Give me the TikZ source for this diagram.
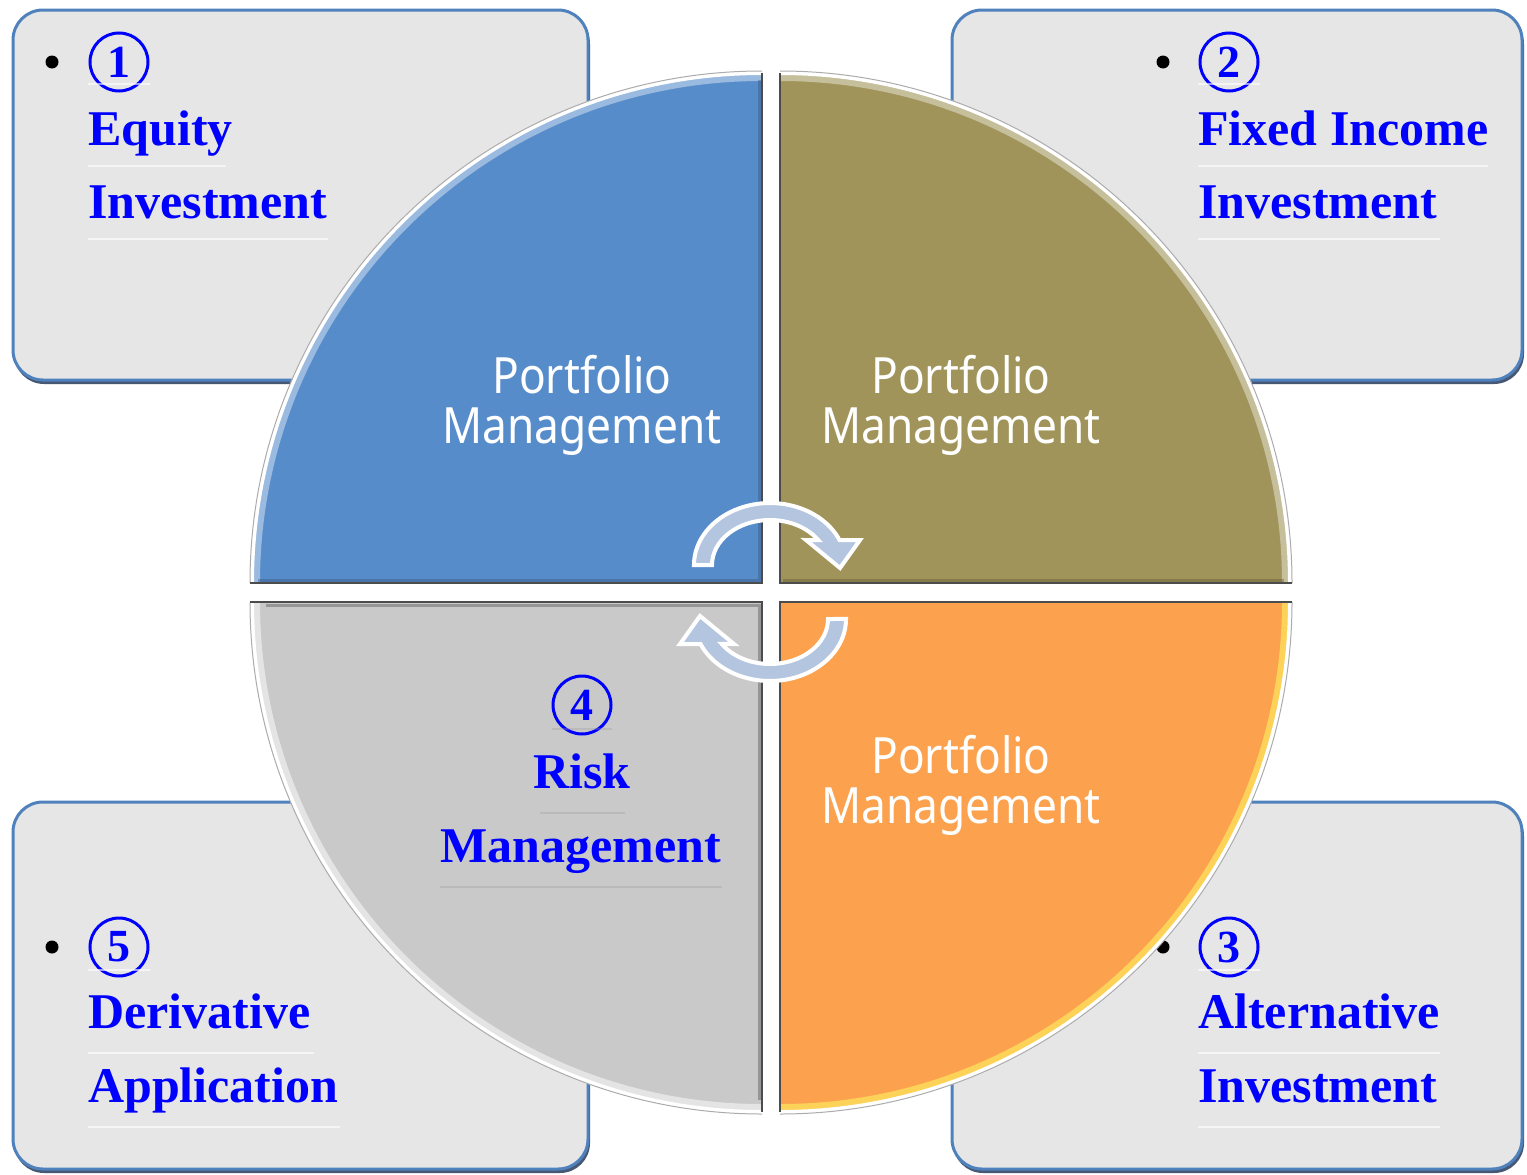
\documentclass[tikz,border=0pt]{standalone}
\usepackage{fontspec}
\setmainfont{Liberation Serif}
\newfontfamily\pmfont[FakeStretch=0.885]{Noto Sans}
\definecolor{boxfill}{RGB}{230,230,231}
\definecolor{boxedge}{RGB}{79,129,189}
\definecolor{boxshadow}{RGB}{70,88,115}
\definecolor{qblue}{RGB}{87,140,203}
\definecolor{qolive}{RGB}{160,148,90}
\definecolor{qgray}{RGB}{201,201,201}
\definecolor{qorange}{RGB}{252,161,78}
\definecolor{arrowfill}{RGB}{180,197,224}
\definecolor{txtblue}{RGB}{0,0,255}
\tikzset{
  cardbox/.style={rounded corners=30pt, fill=boxfill, draw=boxedge, line width=3pt},
  cardshadow/.style={rounded corners=30pt, fill=boxshadow},
  bluetxt/.style={anchor=base west, inner sep=0pt, text=txtblue, font=\fontsize{50}{52}\selectfont\bfseries},
  bluetxtc/.style={anchor=base, inner sep=0pt, text=txtblue, font=\fontsize{50}{52}\selectfont\bfseries},
  numcirc/.style={circle, draw=txtblue, line width=3pt, minimum size=58pt, inner sep=0pt, text=txtblue, font=\fontsize{46}{46}\selectfont\bfseries},
  bulletdot/.style={circle, fill=black, minimum size=13pt, inner sep=0pt},
  uline/.style={draw=white, line width=2pt, opacity=0.6},
  ulineq/.style={draw=gray!80, line width=2pt, opacity=0.3},
  pmtxt/.style={anchor=base, inner sep=0pt, text=white, font=\fontsize{50}{52}\pmfont},
  arrowsty/.style={fill=arrowfill, draw=white, line width=4pt, line join=miter},
  rimwhite/.style={draw=white, line width=4pt},
  rimgray/.style={draw=gray!65, line width=1pt},
  edgeline/.style={draw=gray!60!black, line width=1.2pt},
}
\begin{document}
\begin{tikzpicture}[x=1pt, y=-1pt]
\useasboundingbox[fill=white] (0,0) rectangle (1527,1175);

% ---------- corner cards ----------
\foreach \xa/\ya/\xb/\yb in {13/10/588/380, 952/10/1522/380, 13/802/588/1169, 952/802/1522/1169}{
  \fill[cardshadow] (\xa+1,\ya+4) rectangle (\xb+2,\yb+4);
  \draw[cardbox] (\xa,\ya) rectangle (\xb,\yb);
}

% card 1 (top left)
\node[bulletdot] (b1) at (52,62) {};
\node[numcirc] (n1) at (119,62) {1};
\draw[uline] (88,84) -- (150,84);
\node[bluetxt] (t1a) at (88,145) {Equity};
\draw[uline] (88,166) -- (226,166);
\node[bluetxt] (t1b) at (88,218) {Investment};
\draw[uline] (88,239) -- (328,239);

% card 2 (top right)
\node[bulletdot] (b2) at (1163,62) {};
\node[numcirc] (n2) at (1229,62) {2};
\draw[uline] (1198,84) -- (1260,84);
\node[bluetxt] (t2a) at (1198,145) {Fixed Income};
\draw[uline] (1198,166) -- (1488,166);
\node[bluetxt] (t2b) at (1198,218) {Investment};
\draw[uline] (1198,239) -- (1440,239);

% card 3 (bottom right)
\node[bulletdot] (b3) at (1163,947) {};
\node[numcirc] (n3) at (1229,947) {3};
\draw[uline] (1198,970) -- (1260,970);
\node[bluetxt] (t3a) at (1198,1028) {Alternative};
\draw[uline] (1198,1053) -- (1440,1053);
\node[bluetxt] (t3b) at (1198,1102) {Investment};
\draw[uline] (1198,1127) -- (1440,1127);

% card 5 (bottom left)
\node[bulletdot] (b5) at (52,947) {};
\node[numcirc] (n5) at (119,947) {5};
\draw[uline] (88,970) -- (150,970);
\node[bluetxt] (t5a) at (88,1028) {Derivative};
\draw[uline] (88,1053) -- (314,1053);
\node[bluetxt] (t5b) at (88,1102) {Application};
\draw[uline] (88,1127) -- (340,1127);

% ---------- quadrants ----------
% top left
\fill[qblue] (762,583) -- (252,583) arc[start angle=180, end angle=270, radius=510] -- cycle;
\draw[qblue!60!white, line width=8pt] (256,583) arc[start angle=180, end angle=270, radius=506];
\draw[rimwhite] (252,583) arc[start angle=180, end angle=270, radius=510];
\draw[rimgray] (250,583) arc[start angle=180, end angle=270, radius=512];
\draw[qblue!60!black, line width=3pt, opacity=0.4] (258,580) -- (759,580) -- (759,80);
\draw[edgeline] (250,583) -- (762,583) -- (762,73);
% top right
\fill[qolive] (780,583) -- (1290,583) arc[start angle=0, end angle=-90, radius=510] -- cycle;
\draw[qolive!60!white, line width=8pt] (1286,583) arc[start angle=0, end angle=-90, radius=506];
\draw[rimwhite] (1290,583) arc[start angle=0, end angle=-90, radius=510];
\draw[rimgray] (1292,583) arc[start angle=0, end angle=-90, radius=512];
\draw[qolive!60!black, line width=3pt, opacity=0.4] (1284,580) -- (783,580);
\draw[edgeline] (1292,583) -- (780,583) -- (780,73);
% bottom right
\fill[qorange] (780,602) -- (1290,602) arc[start angle=0, end angle=90, radius=510] -- cycle;
\draw[qorange!60!yellow!80!white, line width=8pt] (1286,602) arc[start angle=0, end angle=90, radius=506];
\draw[rimwhite] (1290,602) arc[start angle=0, end angle=90, radius=510];
\draw[rimgray] (1292,602) arc[start angle=0, end angle=90, radius=512];
\draw[edgeline] (1292,602) -- (780,602) -- (780,1112);
% bottom left
\fill[qgray] (762,602) -- (252,602) arc[start angle=180, end angle=90, radius=510] -- cycle;
\draw[qgray!50!white, line width=8pt] (256,602) arc[start angle=180, end angle=90, radius=506];
\draw[rimwhite] (252,602) arc[start angle=180, end angle=90, radius=510];
\draw[rimgray] (250,602) arc[start angle=180, end angle=90, radius=512];
\draw[edgeline] (250,602) -- (762,602) -- (762,1112);
\draw[gray!45!black, line width=3pt, opacity=0.35] (266,605) -- (759,605) -- (759,1100);

% ---------- quadrant texts ----------
\node[pmtxt] (p1a) at (582,393) {Portfolio};
\node[pmtxt] (p1b) at (582,443) {Management};
\node[pmtxt] (p2a) at (961,393) {Portfolio};
\node[pmtxt] (p2b) at (961,443) {Management};
\node[pmtxt] (p3a) at (961,773) {Portfolio};
\node[pmtxt] (p3b) at (961,823) {Management};

\node[numcirc] (n4) at (582,705) {4};
\draw[ulineq] (552,729) -- (612,729);
\node[bluetxtc] (t4a) at (582,788) {Risk};
\draw[ulineq] (540,813) -- (625,813);
\node[bluetxtc] (t4b) at (581,862) {Management};
\draw[ulineq] (440,887) -- (722,887);

% ---------- circular arrows ----------
\draw[arrowsty] (712,565) arc[start angle=180, end angle=326.3, x radius=58, y radius=45]
  -- (806,540) -- (840,568) -- (860,540) -- (839.5,540)
  arc[start angle=336.2, end angle=180, x radius=76, y radius=62] -- cycle;
\draw[arrowsty, rotate around={180:(770,592)}] (712,565) arc[start angle=180, end angle=326.3, x radius=58, y radius=45]
  -- (806,540) -- (840,568) -- (860,540) -- (839.5,540)
  arc[start angle=336.2, end angle=180, x radius=76, y radius=62] -- cycle;
\end{tikzpicture}
\end{document}
